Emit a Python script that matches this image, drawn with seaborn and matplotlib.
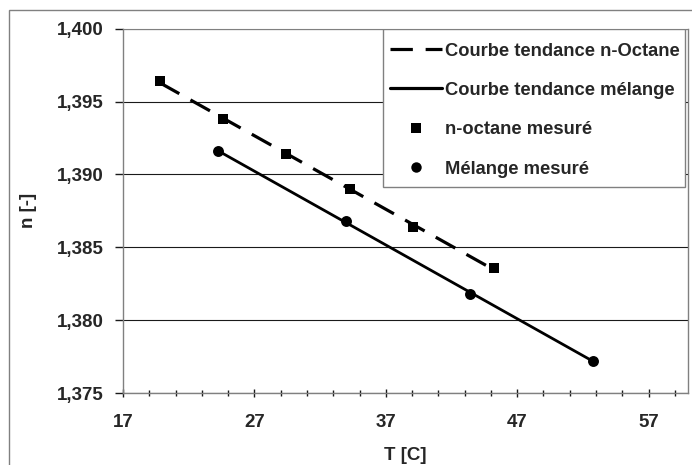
import numpy as np
import pandas as pd
import matplotlib
matplotlib.use("Agg")
import matplotlib.pyplot as plt
from matplotlib.patches import Rectangle
from matplotlib.lines import Line2D
from matplotlib.ticker import MultipleLocator, FixedLocator
import seaborn as sns

# Refractive index measurements versus temperature
t_octane = [19.8, 24.6, 29.4, 34.3, 39.1, 45.2]
n_octane = [1.3964, 1.3938, 1.3914, 1.3890, 1.3864, 1.3836]
t_melange = [24.2, 34.0, 43.4, 52.8]
n_melange = [1.3916, 1.3868, 1.3818, 1.3772]

y_ticks = [1.375, 1.380, 1.385, 1.390, 1.395, 1.400]
y_tick_labels = ["1,375", "1,380", "1,385", "1,390", "1,395", "1,400"]
x_ticks = [17, 27, 37, 47, 57]

lbl_trend_oct = "Courbe tendance n-Octane"
lbl_trend_mel = "Courbe tendance mélange"
lbl_meas_oct = "n-octane mesuré"
lbl_meas_mel = "Mélange mesuré"

df_oct = pd.DataFrame({"T": t_octane, "n": n_octane})
df_mel = pd.DataFrame({"T": t_melange, "n": n_melange})

sns.set_style("white")
plt.rcParams["font.family"] = ["Liberation Sans", "DejaVu Sans"]
plt.rcParams["font.weight"] = "bold"

FS = 13.5

fig = plt.figure(figsize=(6.92, 4.65), dpi=100)
fig.patch.set_facecolor("white")
# outer chart frame (left and top edges)
fig.patches.append(Rectangle((9 / 692, -0.1), 1.2, 1 - 10 / 465 + 0.1,
                             transform=fig.transFigure, fill=False,
                             edgecolor="#808080", lw=1.0))

ax = fig.add_axes([123 / 692, 1 - 393 / 465, (688 - 123) / 692, (393 - 28.7) / 465])

# trend lines (linear fits over each data range)
sns.regplot(data=df_oct, x="T", y="n", ax=ax, scatter=False, ci=None,
            truncate=True, color="black",
            line_kws=dict(lw=2.3, dashes=(7, 4), solid_capstyle="butt"))
sns.regplot(data=df_mel, x="T", y="n", ax=ax, scatter=False, ci=None,
            truncate=True, color="black", line_kws=dict(lw=2.0))

# measured points
sns.scatterplot(data=df_oct, x="T", y="n", ax=ax, marker="s", s=62,
                color="black", edgecolor="black", linewidth=0, zorder=5)
sns.scatterplot(data=df_mel, x="T", y="n", ax=ax, marker="o", s=62,
                color="black", edgecolor="black", linewidth=0, zorder=5)

ax.set_xlim(17, 60)
ax.set_ylim(1.375, 1.400)
ax.xaxis.set_major_locator(FixedLocator(x_ticks))
ax.xaxis.set_minor_locator(MultipleLocator(2, offset=1))
ax.set_yticks(y_ticks)
ax.set_yticklabels(y_tick_labels)

ax.grid(axis="y", which="major", color="#1a1a1a", lw=0.8)
ax.set_axisbelow(True)
for side in ["left", "right", "bottom"]:
    ax.spines[side].set_color("#808080")
    ax.spines[side].set_linewidth(1.0)
ax.spines["top"].set_color("#808080")
ax.spines["top"].set_linewidth(0.8)

ax.tick_params(axis="x", which="major", direction="inout", length=5.8, width=1,
               color="#1a1a1a", labelsize=FS, pad=12, bottom=True)
ax.tick_params(axis="x", which="minor", direction="inout", length=4, width=1,
               color="#1a1a1a", bottom=True)
ax.tick_params(axis="y", which="major", direction="out", length=5.8, width=1,
               color="#1a1a1a", labelsize=FS, pad=8.4, left=True)
for lab in ax.get_xticklabels() + ax.get_yticklabels():
    lab.set_fontweight("bold")

ax.set_xlabel("T [C]", fontsize=FS, fontweight="bold")
ax.set_ylabel("n [-]", fontsize=FS, fontweight="bold")
ax.xaxis.set_label_coords(0.5, -0.148)
ax.yaxis.set_label_coords(-0.152, 0.5)

# legend box
ax.add_patch(Rectangle((0.4602, 0.5655), 0.9947 - 0.4602, 0.9992 - 0.5655,
                       transform=ax.transAxes, facecolor="white",
                       edgecolor="#808080", lw=1.0, zorder=6))

handles = [
    Line2D([], [], color="black", lw=2.3, dashes=(7, 4), solid_capstyle="butt"),
    Line2D([], [], color="black", lw=2.3),
    Line2D([], [], color="black", marker="s", ls="none", markersize=7.5, markeredgewidth=0),
    Line2D([], [], color="black", marker="o", ls="none", markersize=7.5, markeredgewidth=0),
]
labels = [lbl_trend_oct, lbl_trend_mel, lbl_meas_oct, lbl_meas_mel]
leg = ax.legend(handles, labels, loc="upper left",
                bbox_to_anchor=(0.4726, 0.962),
                borderaxespad=0, borderpad=0, frameon=False,
                handlelength=2.85, handletextpad=0.17,
                labelspacing=1.22, prop=dict(size=13.2, weight="bold"))
leg.set_zorder(7)

fig.savefig("out.png", dpi=100, facecolor="white")
